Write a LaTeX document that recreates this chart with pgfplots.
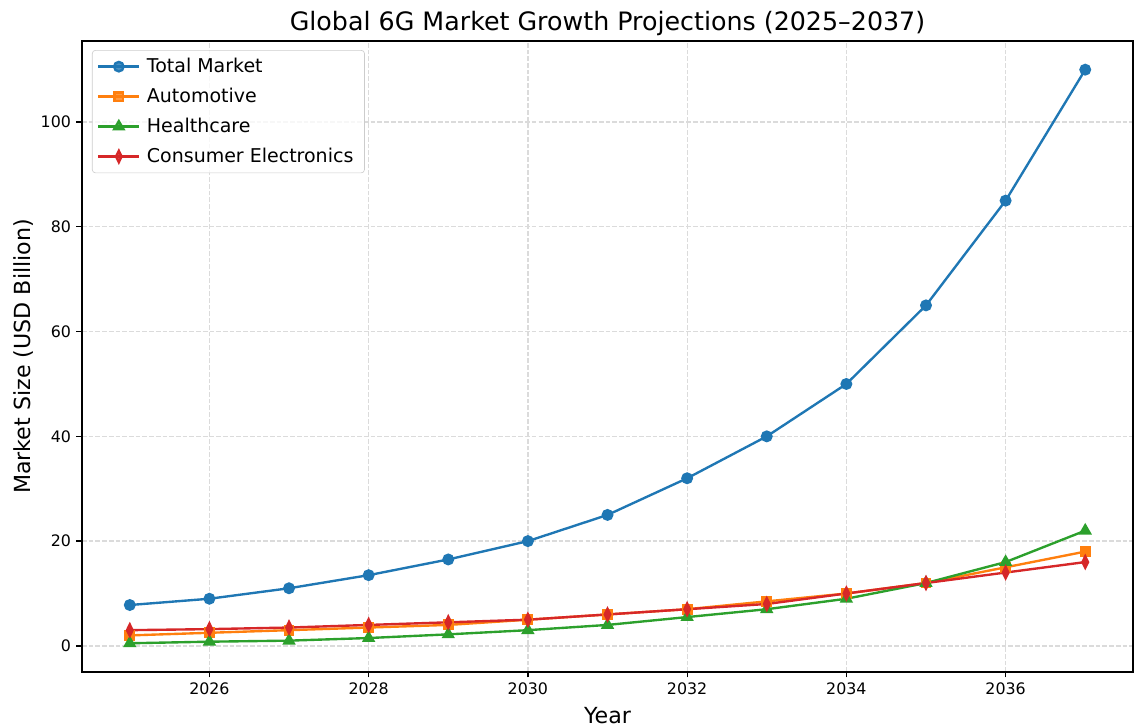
\documentclass[border=0pt]{standalone}
\usepackage{fontspec}
\setmainfont{DejaVu Sans}
\usepackage{pgfplots}
\pgfplotsset{compat=1.18}
\definecolor{tabblue}{HTML}{1F77B4}
\definecolor{taborange}{HTML}{FF7F0E}
\definecolor{tabgreen}{HTML}{2CA02C}
\definecolor{tabred}{HTML}{D62728}
\begin{document}
\begin{tikzpicture}
\begin{axis}[
  scale only axis,
  width=663.8pt, height=398.5pt,
  xmin=2024.4, xmax=2037.6,
  ymin=-4.975, ymax=115.475,
  xtick={2026,2028,2030,2032,2034,2036},
  ytick={0,20,40,60,80,100},
  /pgf/number format/1000 sep={},
  /pgf/number format/assume math mode=true,
  tick label style={font=\fontsize{10}{12}\selectfont},
  tick align=outside, tick pos=left,
  major tick length=3.5pt,
  every tick/.style={black, line width=0.8pt},
  axis line style={line width=0.8pt},
  grid=major,
  major grid style={dash pattern=on 2.96pt off 1.28pt, color=gray!28, line width=0.8pt},
  title={Global 6G Market Growth Projections (2025–2037)},
  title style={font=\fontsize{16}{19}\selectfont, yshift=-6.5pt},
  xlabel={Year}, ylabel={Market Size (USD Billion)},
  label style={font=\fontsize{14}{17}\selectfont},
  xlabel style={yshift=-1pt},
  ylabel style={yshift=-2pt},
  legend style={at={(axis description cs:0,1)}, xshift=6.3pt, yshift=-5.7pt, anchor=north west,
    draw=gray!40, rounded corners=2pt, fill=white, fill opacity=0.8, text opacity=1,
    font=\fontsize{12}{15}\selectfont, cells={anchor=west}, inner sep=3pt, row sep=4.3pt,
    nodes={inner xsep=4pt}},
  legend image code/.code={\draw[mark repeat=2, mark phase=2] plot coordinates {(0pt,0pt)(13pt,0pt)(26pt,0pt)};},
  every axis plot/.append style={line width=1.5pt},
]
\coordinate (SW) at (axis description cs:0,0);
\coordinate (NE) at (axis description cs:1,1);
\addplot[color=tabblue, mark=*, mark size=3pt, mark options={solid}] coordinates {
(2025,7.8)(2026,9)(2027,11)(2028,13.5)(2029,16.5)(2030,20)(2031,25)(2032,32)(2033,40)(2034,50)(2035,65)(2036,85)(2037,110)};
\addlegendentry{Total Market}
\addplot[color=taborange, mark=square*, mark size=2.7pt] coordinates {
(2025,2)(2026,2.5)(2027,3)(2028,3.5)(2029,4)(2030,5)(2031,6)(2032,7)(2033,8.5)(2034,10)(2035,12)(2036,15)(2037,18)};
\addlegendentry{Automotive}
\addplot[color=tabgreen, mark=triangle*, mark size=3.4pt] coordinates {
(2025,0.5)(2026,0.8)(2027,1)(2028,1.5)(2029,2.2)(2030,3)(2031,4)(2032,5.5)(2033,7)(2034,9)(2035,12)(2036,16)(2037,22)};
\addlegendentry{Healthcare}
\addplot[color=tabred, mark=diamond*, mark size=3.6pt, mark options={xscale=0.65}] coordinates {
(2025,3)(2026,3.2)(2027,3.5)(2028,4)(2029,4.5)(2030,5)(2031,6)(2032,7)(2033,8)(2034,10)(2035,12)(2036,14)(2037,16)};
\addlegendentry{Consumer Electronics}
\end{axis}
\pgfresetboundingbox
\path ([xshift=-51.8pt,yshift=-34.7pt]SW) rectangle ([xshift=1.26pt,yshift=25.9pt]NE);
\end{tikzpicture}
\end{document}
